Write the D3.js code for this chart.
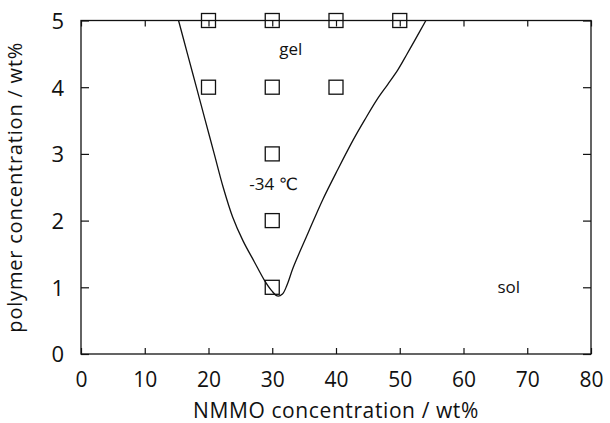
<!DOCTYPE html>
<html>
<head>
<meta charset="utf-8">
<script src="https://cdn.jsdelivr.net/npm/d3@7"></script>
<style>
  html, body { margin: 0; padding: 0; background: #fff; }
  svg { display: block; }
  text { font-family: "Open Sans", "DejaVu Sans", sans-serif; fill: #111; }
</style>
</head>
<body>
<svg id="chart" width="610" height="423"></svg>
<script>
// NMMO concentration (x) and polymer concentration (y) axes
const nmmoTicks = [0, 10, 20, 30, 40, 50, 60, 70, 80];
const polymerTicks = [0, 1, 2, 3, 4, 5];

// Compositions observed to gel at -34 °C
const gelNmmo    = [20, 30, 40, 50, 20, 30, 40, 30, 30, 30];
const gelPolymer = [5, 5, 5, 5, 4, 4, 4, 3, 2, 1];

// Sol–gel boundary line
const boundaryNmmo    = [15.3, 16.7, 18.1, 19.5, 20.9, 22.3, 23.8, 25.4, 27.2, 28.8, 29.9, 30.8, 31.6, 32.3, 33.3, 35.6, 37.9, 40.3, 42.7, 44.5, 46.4, 48.1, 49.7, 51.1, 52.4, 54.1];
const boundaryPolymer = [5.0, 4.5, 4.0, 3.5, 3.0, 2.5, 2.05, 1.7, 1.38, 1.1, 0.95, 0.87, 0.9, 1.03, 1.3, 1.81, 2.31, 2.77, 3.21, 3.51, 3.81, 4.04, 4.26, 4.49, 4.71, 5.0];

// Region labels
const regionLabels = ["gel", "-34 ℃", "sol"];
const regionNmmo    = [32.9, 30.2, 67.1];
const regionPolymer = [4.49, 2.46, 0.92];

const xTitle = "NMMO concentration / wt%";
const yTitle = "polymer concentration / wt%";

const svg = d3.select("#chart");
const m = { left: 81, right: 591, top: 20.5, bottom: 354 };

const x = d3.scaleLinear().domain([0, 80]).range([m.left, m.right]);
const y = d3.scaleLinear().domain([0, 5]).range([m.bottom, m.top]);

const ink = "#111";

// Frame
svg.append("rect")
  .attr("x", m.left).attr("y", m.top)
  .attr("width", m.right - m.left).attr("height", m.bottom - m.top)
  .attr("fill", "none").attr("stroke", ink).attr("stroke-width", 1.3);

function styleAxis(g) {
  g.select(".domain").remove();
  g.selectAll(".tick line").attr("stroke", ink).attr("stroke-width", 1.2);
}

// Bottom axis with inward ticks
const gx = svg.append("g")
  .attr("transform", `translate(0,${m.bottom})`)
  .call(d3.axisBottom(x).tickValues(nmmoTicks).tickSizeInner(-6).tickSizeOuter(0).tickFormat(d3.format("d")));
styleAxis(gx);
gx.selectAll(".tick text")
  .attr("dy", null).attr("y", 33)
  .attr("font-size", 21).attr("fill", ink)
  .style("font-family", "'Open Sans', sans-serif");

// Top axis: ticks only
const gxt = svg.append("g")
  .attr("transform", `translate(0,${m.top})`)
  .call(d3.axisTop(x).tickValues(nmmoTicks).tickSizeInner(-6).tickSizeOuter(0).tickFormat(""));
styleAxis(gxt);

// Left axis with inward ticks
const gy = svg.append("g")
  .attr("transform", `translate(${m.left},0)`)
  .call(d3.axisLeft(y).tickValues(polymerTicks).tickSizeInner(-8).tickSizeOuter(0).tickFormat(d3.format("d")));
styleAxis(gy);
gy.selectAll(".tick text")
  .attr("x", -17).attr("dy", "0.36em")
  .attr("font-size", 22).attr("fill", ink)
  .style("font-family", "'Open Sans', sans-serif");

// Right axis: ticks only
const gyr = svg.append("g")
  .attr("transform", `translate(${m.right},0)`)
  .call(d3.axisRight(y).tickValues(polymerTicks).tickSizeInner(-8).tickSizeOuter(0).tickFormat(""));
styleAxis(gyr);

// Boundary curve
const line = d3.line()
  .x((d, i) => x(boundaryNmmo[i]))
  .y((d, i) => y(boundaryPolymer[i]))
  .curve(d3.curveCatmullRom.alpha(0.5));
svg.append("path")
  .datum(boundaryNmmo)
  .attr("d", line)
  .attr("fill", "none").attr("stroke", ink).attr("stroke-width", 1.3);

// Gel points: open squares
const sq = 14;
svg.append("g").selectAll("rect")
  .data(gelNmmo)
  .join("rect")
  .attr("x", (d) => x(d) - sq / 2)
  .attr("y", (d, i) => y(gelPolymer[i]) - sq / 2)
  .attr("width", sq).attr("height", sq)
  .attr("fill", "none").attr("stroke", ink).attr("stroke-width", 1.3);

// Region labels
svg.append("g").selectAll("text")
  .data(regionLabels)
  .join("text")
  .attr("x", (d, i) => x(regionNmmo[i]))
  .attr("y", (d, i) => y(regionPolymer[i]))
  .attr("text-anchor", "middle")
  .attr("font-size", 17)
  .text((d) => d);

// Axis titles
svg.append("text")
  .attr("x", (m.left + m.right) / 2).attr("y", 418)
  .attr("text-anchor", "middle")
  .attr("font-size", 21)
  .attr("letter-spacing", 0.6)
  .text(xTitle);

svg.append("text")
  .attr("transform", `translate(22,${(m.top + m.bottom) / 2}) rotate(-90)`)
  .attr("text-anchor", "middle")
  .attr("font-size", 20)
  .attr("letter-spacing", 0.8)
  .text(yTitle);
</script>
</body>
</html>
